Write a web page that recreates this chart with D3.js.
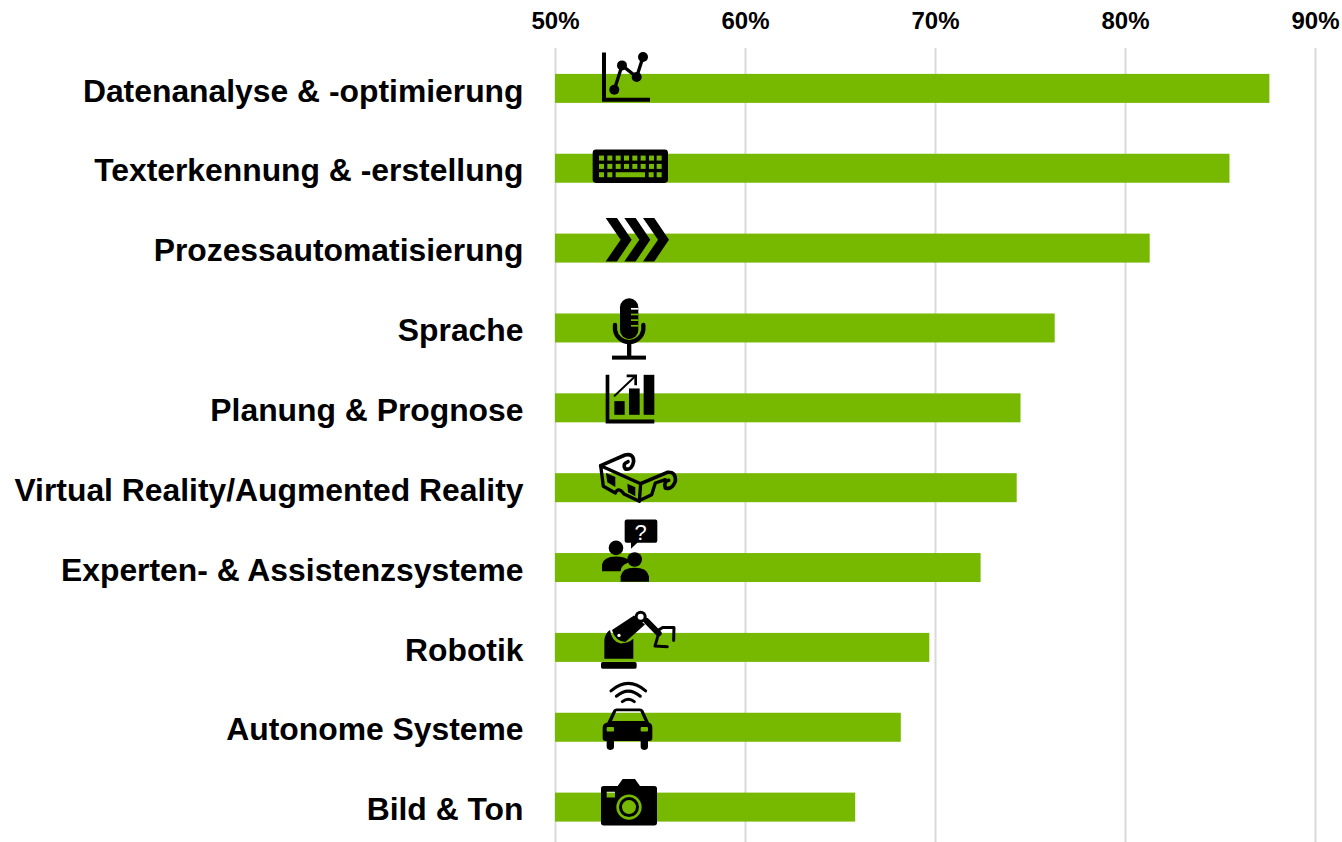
<!DOCTYPE html>
<html>

<head>
    <meta charset="UTF-8">
    <title>KI Anwendungen</title>
    <script src="https://d3js.org/d3.v7.min.js"></script>
    <style>
        html, body { margin: 0; padding: 0; background: #fff; overflow: hidden; }
        text { font-family: "Liberation Sans", Arial, sans-serif; font-weight: bold; fill: #000; }
    </style>
</head>

<body>
    <div id="chart"></div>
    <script>
        // Werte
        var categories = ["Datenanalyse & -optimierung", "Texterkennung & -erstellung", "Prozessautomatisierung", "Sprache",
            "Planung & Prognose", "Virtual Reality/Augmented Reality", "Experten- & Assistenzsysteme", "Robotik",
            "Autonome Systeme", "Bild & Ton"];
        var values = [87.6, 85.5, 81.3, 76.3, 74.5, 74.3, 72.4, 69.7, 68.2, 65.8];
        var ticks = [50, 60, 70, 80, 90];
        var iconNames = ["chart", "keyboard", "chevrons", "mic", "growth", "glasses", "people", "robot", "car", "camera"];

        var width = 1342, height = 842;
        var green = "#76b900";

        var svg = d3.select("#chart").append("svg")
            .attr("width", width)
            .attr("height", height)
            .style("display", "block");

        var x = d3.scaleLinear().domain([50, 90]).range([555, 1315]);
        var y = d3.scaleBand().domain(categories).range([48.5, 847]).paddingInner(0.637).paddingOuter(0.318);

        // Gitter + obere Achse
        var topAxis = svg.append("g")
            .attr("transform", "translate(0,48)")
            .call(d3.axisTop(x).tickValues(ticks).tickFormat(function (d) { return d + "%"; }).tickSize(-794).tickPadding(19));
        topAxis.select(".domain").remove();
        topAxis.selectAll("line").attr("stroke", "#d9d9d9").attr("stroke-width", 2);
        topAxis.selectAll("text").attr("font-size", "24px").attr("font-family", null);

        // Balken
        svg.append("g").selectAll("rect")
            .data(values)
            .enter().append("rect")
            .attr("x", x(50))
            .attr("y", function (d, i) { return y(categories[i]); })
            .attr("width", function (d) { return x(d) - x(50); })
            .attr("height", y.bandwidth())
            .attr("fill", green);

        // Kategorien
        var leftAxis = svg.append("g")
            .attr("transform", "translate(" + x(50) + ",3)")
            .call(d3.axisLeft(y).tickSize(0).tickPadding(31.5));
        leftAxis.select(".domain").remove();
        leftAxis.selectAll("text").attr("font-size", "31.85px").attr("font-family", null);

        // Icons: Koordinaten im 3x-Raster, Mitte des Balkens liegt bei cy
        function draw(g, tag, attrs) {
            var el = g.append(tag);
            Object.keys(attrs).forEach(function (k) { el.attr(k, attrs[k]); });
            return el;
        }
        function line(g, d, w) {
            return draw(g, "path", { d: d, fill: "none", stroke: "#000", "stroke-width": w, "stroke-linecap": "round", "stroke-linejoin": "round" });
        }

        var icons = {
            chart: { cy: 144, draw: function (g) {
                draw(g, "path", { d: "M156 36H168V172H300V184H156Z" });
                line(g, "M193 148L216 75L260 110L279 50", 10);
                [[193, 148, 15], [216, 75, 15], [260, 110, 15], [279, 50, 15]].forEach(function (c) {
                    draw(g, "circle", { cx: c[0], cy: c[1], r: c[2] });
                });
            } },
            keyboard: { cy: 384, draw: function (g) {
                draw(g, "rect", { x: 128, y: 328, width: 226, height: 100, rx: 10 });
                [147, 172, 197, 222, 247, 272, 297, 320].forEach(function (kx) {
                    [346, 371].forEach(function (ky) {
                        draw(g, "rect", { x: kx, y: ky, width: 15, height: 15, fill: green });
                    });
                });
                [[147, 15], [172, 15], [197, 88], [296, 15], [320, 15]].forEach(function (k) {
                    draw(g, "rect", { x: k[0], y: 396, width: k[1], height: 15, fill: green });
                });
            } },
            chevrons: { cy: 624, draw: function (g) {
                [0, 56, 112].forEach(function (dx) {
                    draw(g, "path", { d: "M167 534H201L245 599L201 664H167L212 599Z", transform: "translate(" + dx + ",0)" });
                });
            } },
            mic: { cy: 144, draw: function (g) {
                draw(g, "rect", { x: 210, y: 55, width: 55, height: 122, rx: 27 });
                [84, 101, 118, 135].forEach(function (ly) {
                    draw(g, "rect", { x: 243, y: ly, width: 22, height: 5, fill: ly < 100 ? "#fff" : green });
                });
                line(g, "M195 135V150A43 43 0 0 0 280 150V135", 13);
                draw(g, "rect", { x: 231, y: 190, width: 13, height: 40 });
                draw(g, "rect", { x: 186, y: 227, width: 102, height: 12 });
            } },
            growth: { cy: 384, draw: function (g) {
                draw(g, "path", { d: "M167 285H178V419H313V431H167Z" });
                draw(g, "rect", { x: 193, y: 364, width: 31, height: 41 });
                draw(g, "rect", { x: 237, y: 326, width: 32, height: 79 });
                draw(g, "rect", { x: 281, y: 285, width: 32, height: 120 });
                line(g, "M194 348L254 291", 6);
                draw(g, "path", { d: "M230 284H261V316L253 316V292H230Z" });
            } },
            glasses: { cy: 624, draw: function (g) {
                line(g, "M152 558L272 612L268 665L222 643Q205 620 196 640L160 620Z", 10);
                line(g, "M152 558L225 526Q250 520 251 545Q247 572 226 568Q216 552 234 546", 11);
                line(g, "M272 612L352 578Q378 575 376 605Q365 632 346 625Q340 606 356 602", 11);
                line(g, "M270 662L305 645L316 610L346 600", 10);
                draw(g, "path", { d: "M168 580L196 592V622L172 608Z" });
                draw(g, "path", { d: "M232 612L256 623V650L234 638Z" });
            } },
            people: { cy: 174, draw: function (g) {
                draw(g, "path", { d: "M230 30H316Q322 30 322 36V94Q322 100 316 100H262L243 118V100H230Q224 100 224 94V36Q224 30 230 30Z" });
                draw(g, "text", { x: 272, y: 90, "font-size": 66, "text-anchor": "middle" }).text("?").style("fill", "#fff").style("font-weight", "normal");
                draw(g, "circle", { cx: 198, cy: 115, r: 22 });
                draw(g, "path", { d: "M156 185V165Q160 142 198 141Q222 141 234 150V160Q212 168 212 185Z" });
                draw(g, "circle", { cx: 254, cy: 150, r: 22 });
                draw(g, "path", { d: "M212 217V200Q216 175 254 175Q292 175 297 200V217Z" });
            } },
            robot: { cy: 414, draw: function (g) {
                draw(g, "rect", { x: 153, y: 458, width: 107, height: 20, rx: 5 });
                draw(g, "path", { d: "M163 448V392Q165 372 180 362Q185 398 212 402Q235 402 250 388V448Z" });
                draw(g, "path", { d: "M186 362L252 318L285 345L226 398Q195 395 186 362Z" });
                draw(g, "circle", { cx: 272, cy: 322, r: 18 });
                draw(g, "circle", { cx: 272, cy: 322, r: 9, fill: "#fff" });
                draw(g, "circle", { cx: 207, cy: 378, r: 5, fill: "#fff" });
                line(g, "M290 335L326 372", 18);
                line(g, "M326 362L338 354H372L371 393", 9);
                line(g, "M326 372L315 410L352 412", 9);
            } },
            car: { cy: 159, draw: function (g) {
                line(g, "M183 50Q235 5 287 50", 9);
                line(g, "M199 66Q235 35 271 66", 9);
                line(g, "M217 82Q235 68 253 82", 9);
                draw(g, "path", { "fill-rule": "evenodd", d: "M158 160Q158 148 172 145L190 108Q193 103 200 103H270Q277 103 280 108L297 145Q307 148 307 160V192Q307 200 298 200H167Q158 200 158 192ZM186 140H284L271 111H199Z" });
                draw(g, "rect", { x: 170, y: 190, width: 22, height: 37, rx: 10 });
                draw(g, "rect", { x: 272, y: 190, width: 22, height: 37, rx: 10 });
                draw(g, "rect", { x: 170, y: 158, width: 22, height: 14, rx: 3, fill: green });
                draw(g, "rect", { x: 272, y: 158, width: 22, height: 14, rx: 3, fill: green });
            } },
            camera: { cy: 396, draw: function (g) {
                draw(g, "path", { "fill-rule": "evenodd", d: "M161 333H203L218 312H255L270 333H313Q321 333 321 341V443Q321 451 313 451H161Q153 451 153 443V341Q153 333 161 333ZM170 350V367H195V350Z" });
                draw(g, "circle", { cx: 237, cy: 396, r: 34, fill: "none", stroke: green, "stroke-width": 8 });
                draw(g, "circle", { cx: 237, cy: 396, r: 21, fill: green });
            } }
        };

        svg.append("g").selectAll("g")
            .data(iconNames)
            .enter().append("g")
            .attr("transform", function (d, i) {
                var mid = y(categories[i]) + y.bandwidth() / 2;
                return "translate(550," + (mid - icons[d].cy / 3) + ") scale(0.3333)";
            })
            .each(function (d) { icons[d].draw(d3.select(this)); });
    </script>
</body>

</html>
